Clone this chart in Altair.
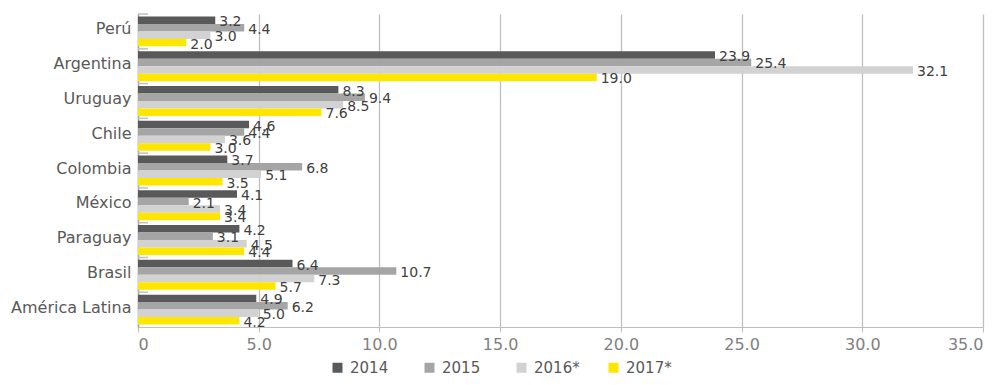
import altair as alt
import pandas as pd

categories = ["Perú", "Argentina", "Uruguay\u00a0", "Chile", "Colombia", "México", "Paraguay", "Brasil", "América Latina"]
series = ["2014", "2015", "2016*", "2017*"]
v2014 = [3.2, 23.9, 8.3, 4.6, 3.7, 4.1, 4.2, 6.4, 4.9]
v2015 = [4.4, 25.4, 9.4, 4.4, 6.8, 2.1, 3.1, 10.7, 6.2]
v2016 = [3.0, 32.1, 8.5, 3.6, 5.1, 3.4, 4.5, 7.3, 5.0]
v2017 = [2.0, 19.0, 7.6, 3.0, 3.5, 3.4, 4.4, 5.7, 4.2]
colors = ["#595959", "#a5a5a5", "#d2d2d2", "#ffe600"]
x_ticks = [0, 5, 10, 15, 20, 25, 30, 35]

rows = []
for s, vals in zip(series, [v2014, v2015, v2016, v2017]):
    for c, v in zip(categories, vals):
        rows.append({"Pais": c, "Serie": s, "Valor": v})
df = pd.DataFrame(rows)

y_enc = alt.Y("Pais:N", sort=categories, title=None,
              scale=alt.Scale(paddingInner=0.14, paddingOuter=0.07),
              axis=alt.Axis(labelFont="DejaVu Sans", labelFontSize=16, labelColor="#595959",
                            labelPadding=7, ticks=False, domainColor="#a6a6a6", domainWidth=1.5,
                            labelLimit=200, labelOffset=-2))
x_enc = alt.X("Valor:Q", title=None,
              scale=alt.Scale(domain=[0, 35], nice=False, zero=True),
              axis=alt.Axis(values=x_ticks, labelExpr="datum.value == 0 ? '0' : format(datum.value, '.1f')",
                            labelFont="DejaVu Sans", labelFontSize=16, labelColor="#7f7f7f",
                            grid=True, gridColor="#bfbfbf", gridWidth=1.3,
                            domainColor="#bfbfbf", tickColor="#bfbfbf", tickSize=5, labelPadding=4))
yoff = alt.YOffset("Serie:N", sort=series, scale=alt.Scale(paddingInner=0, paddingOuter=0))

bars = alt.Chart(df).mark_bar(size=7.5).encode(
    y=y_enc, x=x_enc, yOffset=yoff,
    color=alt.Color("Serie:N", sort=series, scale=alt.Scale(domain=series, range=colors),
                    legend=alt.Legend(title=None, orient="none", direction="horizontal",
                                      legendX=192, legendY=346, symbolType="square", symbolSize=100,
                                      symbolStrokeWidth=0, labelFont="DejaVu Sans", labelFontSize=15,
                                      labelColor="#595959", gridAlign="all", columnPadding=26,
                                      labelOffset=5))
)

labels = alt.Chart(df).mark_text(align="left", baseline="middle", dx=4, dy=2,
                                 font="DejaVu Sans", fontSize=14, color="#404040").encode(
    y=alt.Y("Pais:N", sort=categories), x="Valor:Q", yOffset=yoff,
    text=alt.Text("Valor:Q", format=".1f")
)

tick_df = pd.DataFrame({"Pais": categories})
band_ticks = alt.Chart(tick_df).mark_rule(color="#bfbfbf", strokeWidth=1.5).encode(
    y=alt.Y("Pais:N", sort=categories, bandPosition=0),
    yOffset=alt.value(-2.4),
    x=alt.value(0), x2=alt.value(10)
)

chart = alt.layer(bars, band_ticks, labels).properties(
    width=845, height=313,
    autosize=alt.AutoSizeParams(type="none"),
    padding={"left": 130, "top": 6, "right": 13, "bottom": 50}
).configure_view(stroke=None)

chart.save("out.html", embed_options={"renderer": "svg", "actions": False})
